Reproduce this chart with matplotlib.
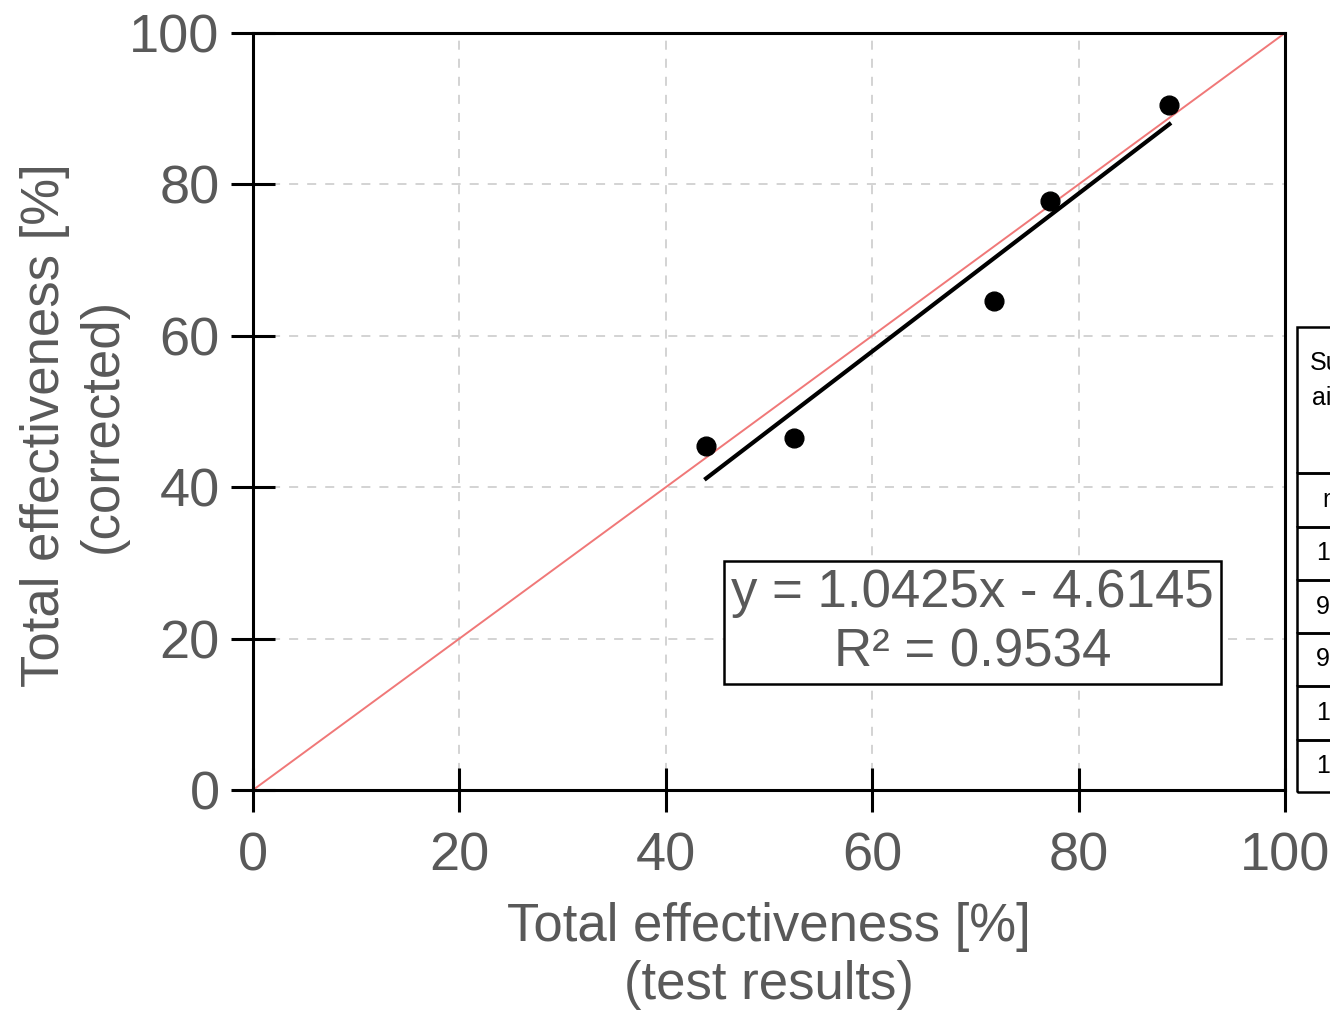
import matplotlib
matplotlib.use("Agg")
import matplotlib.pyplot as plt
import numpy as np

plt.rcParams['font.family'] = ['Liberation Sans', 'DejaVu Sans']

# data
test_results = [43.9, 52.4, 71.8, 77.2, 88.8]
corrected = [45.4, 46.5, 64.6, 77.8, 90.5]
slope = 1.0425
intercept = -4.6145
r2 = 0.9534
ticks = [0, 20, 40, 60, 80, 100]
table_header = ["Supply", "air"]
table_rows = ["m", "1", "9", "9", "1", "1"]

gray = '#595959'
fig = plt.figure(figsize=(13.3, 10.16), dpi=100)
ax = fig.add_axes([253/1330, 1-790/1016, (1285-253)/1330, (790-33)/1016])
ax.set_xlim(0, 100)
ax.set_ylim(0, 100)

ax.set_xticks(ticks)
ax.set_yticks(ticks)
ax.grid(True, color='#d0d0d0', linestyle=(0, (5, 5)), linewidth=1.3)
ax.set_axisbelow(True)
ax.tick_params(direction='inout', length=32, width=2.2, color='black',
               labelsize=39, labelcolor=gray)
ax.tick_params(axis='x', pad=14)
ax.tick_params(axis='y', pad=8)
for s in ax.spines.values():
    s.set_linewidth(2.2)
    s.set_color('black')

ax.plot([0, 100], [0, 100], color='#f07878', lw=1.4, zorder=2)
xf = np.array([min(test_results), max(test_results)])
ax.plot(xf, slope*xf + intercept, color='black', lw=3.0, zorder=3)
ax.plot(test_results, corrected, 'o', color='black', ms=13.5, zorder=4)

ax.text(69.7, 22.1, f"y = {slope:.4f}x - {abs(intercept):.4f}\nR² = {r2:.4f}",
        ha='center', va='center', ma='center', fontsize=38, color=gray,
        linespacing=1.25,
        bbox=dict(boxstyle='square,pad=0.13', fc='white', ec='black', lw=1.8),
        zorder=5)

ax.set_xlabel("Total effectiveness [%]\n(test results)", fontsize=38, color=gray,
              labelpad=15, linespacing=1.2)
ax.set_ylabel("Total effectiveness [%]\n(corrected)", fontsize=38, color=gray,
              linespacing=1.2)
ax.yaxis.set_label_coords((128-253)/1032, (790-425)/757)

# clipped table on the right
X0 = 1297/1330
row_edges = [327, 473, 527, 580, 633, 686, 740, 792]
for i in range(len(row_edges)-1):
    top = 1 - row_edges[i]/1016
    bot = 1 - row_edges[i+1]/1016
    fig.add_artist(plt.Rectangle((X0, bot), 0.2, top-bot, transform=fig.transFigure,
                                 fill=False, ec='black', lw=1.8))
fig.text(1310/1330, 1-363/1016, table_header[0], fontsize=18, color='black', va='center')
fig.text(1312/1330, 1-398/1016, table_header[1], fontsize=18, color='black', va='center')
for i, t in enumerate(table_rows):
    top = row_edges[i+1]
    bot = row_edges[i+2]
    xpos = 1322 if i == 0 else 1316
    fig.text(xpos/1330, 1-(top+bot)/2/1016, t, fontsize=18, color='black', va='center')

fig.savefig('out.png', dpi=100)
